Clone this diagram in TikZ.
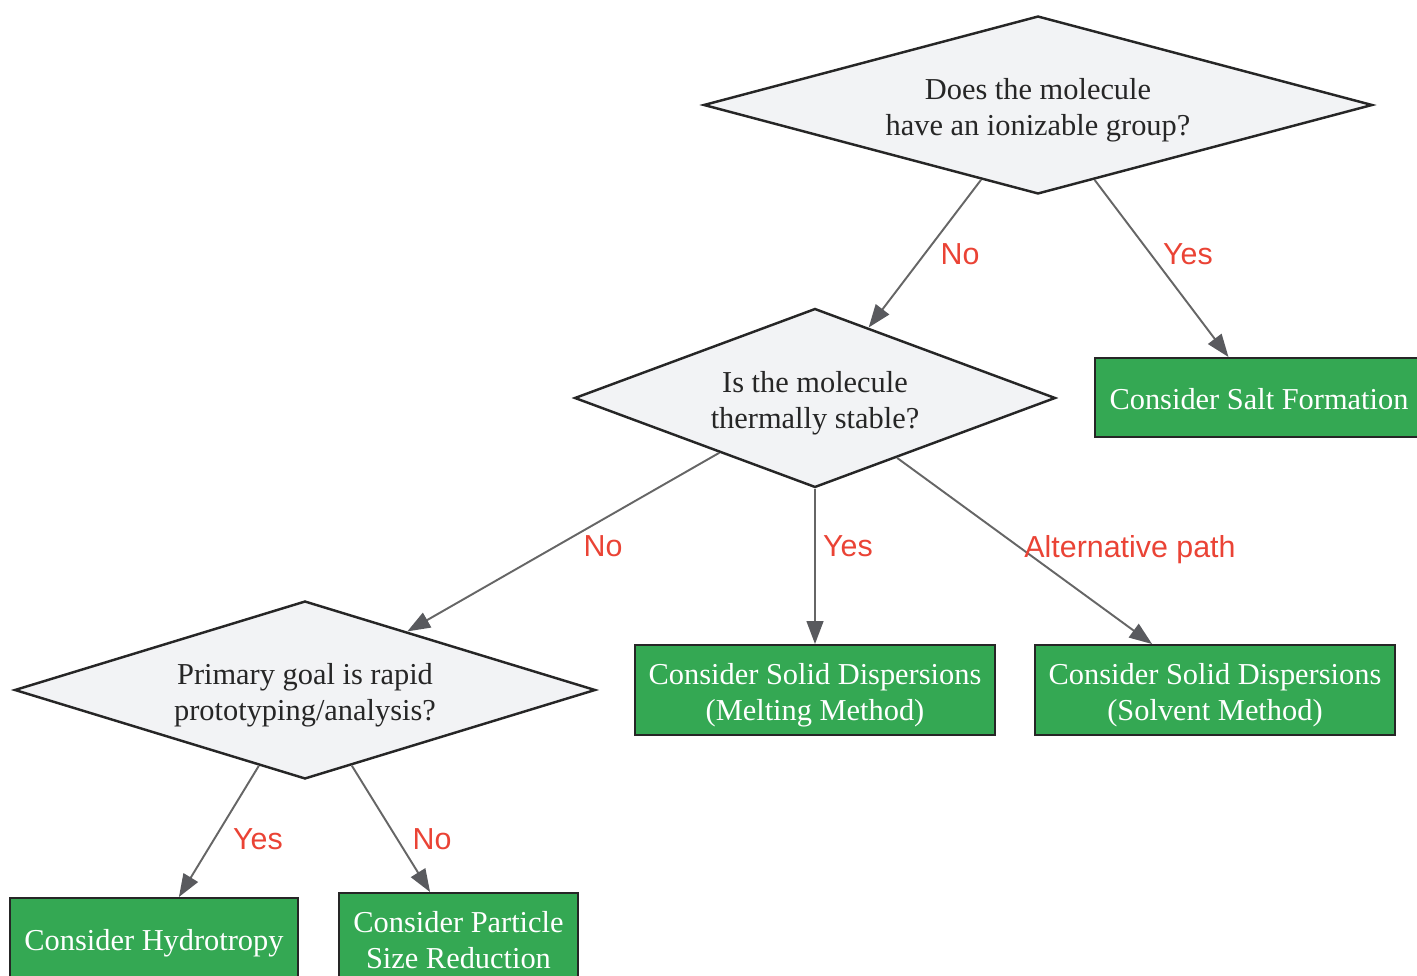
\documentclass[tikz,border=0pt]{standalone}
\usepackage{fontspec}
\setmainfont{Liberation Serif}
\newfontfamily\labelfont{Liberation Sans}
\usepackage{xcolor}
\usetikzlibrary{arrows.meta, shapes.geometric}
\definecolor{decfill}{HTML}{F2F3F5}
\definecolor{boxgreen}{HTML}{34A853}
\definecolor{edgegray}{HTML}{666666}
\definecolor{tipgray}{HTML}{595A5E}
\definecolor{lblred}{HTML}{EA4335}
\tikzset{
    x=0.02cm, y=-0.02cm, % one unit is one pixel of the sketch, y grows downwards
    every node/.style={font=\fontsize{17.3}{21}\selectfont}, % text size of all nodes
    twolines/.style={text height=39.2pt, text depth=4pt}, % text of two lines
    decision/.style={diamond, draw=black!85, line width=1.4pt, fill=decfill, text=black!85, inner sep=0pt, align=center, twolines}, % the questions
    outcome/.style={rectangle, draw=black!85, line width=1.1pt, fill=boxgreen, text=white, inner sep=0pt, align=center,
        text height=18pt, text depth=3.8pt}, % the answers
    edgelabel/.style={text=lblred, font=\labelfont\fontsize{17.3}{21}\selectfont}, % yes / no on the edges
}
\tikzstyle{arrow} = [draw=edgegray, line width=1.1pt, -{Triangle[length=13pt, width=9.5pt, color=tipgray]}]

\begin{document}
\begin{tikzpicture}
    \useasboundingbox (0,0) rectangle (1417,976);
    % questions
    \node[decision, aspect=3.76, minimum width=13.38cm, minimum height=3.56cm] (ionic) at (1038,105) {Does the molecule\\have an ionizable group?};
    \node[decision, aspect=2.69, minimum width=9.62cm, minimum height=3.58cm] (thermal) at (815,398) {Is the molecule\\thermally stable?};
    \node[decision, aspect=3.26, minimum width=11.62cm, minimum height=3.56cm] (goal) at (305,690) {Primary goal is rapid\\prototyping/analysis?};
    % answers
    \node[outcome, minimum width=6.56cm, minimum height=1.58cm] (salt) at (1259,397.5) {Consider Salt Formation};
    \node[outcome, twolines, minimum width=7.2cm, minimum height=1.8cm] (melting) at (815,690) {Consider Solid Dispersions\\(Melting Method)};
    \node[outcome, twolines, minimum width=7.2cm, minimum height=1.8cm] (solvent) at (1215,690) {Consider Solid Dispersions\\(Solvent Method)};
    \node[outcome, minimum width=5.76cm, minimum height=1.6cm] (hydro) at (154,938) {Consider Hydrotropy};
    \node[outcome, twolines, minimum width=4.78cm, minimum height=1.8cm] (particle) at (458.5,938) {Consider Particle\\Size Reduction};
    % edges
    \draw[arrow] (ionic) -- (thermal);
    \draw[arrow] (ionic) -- (salt);
    \draw[arrow] (thermal) -- (goal);
    \draw[arrow] (thermal) -- (melting);
    \draw[arrow] (thermal) -- (solvent);
    \draw[arrow] (goal) -- (hydro);
    \draw[arrow] (goal) -- (particle);
    % edge labels
    \node[edgelabel] (noionic) at (960,254) {No};
    \node[edgelabel] (yesionic) at (1188,254) {Yes};
    \node[edgelabel] (nothermal) at (603,546) {No};
    \node[edgelabel] (yesthermal) at (848,546) {Yes};
    \node[edgelabel] (altthermal) at (1130,550) {Alternative path};
    \node[edgelabel] (yesgoal) at (258,839) {Yes};
    \node[edgelabel] (nogoal) at (432,839) {No};
\end{tikzpicture}
\end{document}
